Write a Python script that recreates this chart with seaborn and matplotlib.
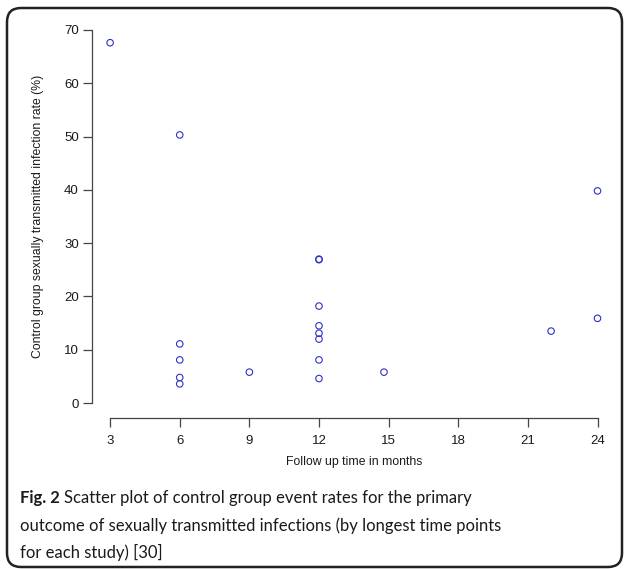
import numpy as np
import pandas as pd
import seaborn as sns
import matplotlib.pyplot as plt
from matplotlib.patches import FancyBboxPatch

# follow-up time (months) and control group STI rate (%)
months = [3, 6, 6, 6, 6, 6, 9, 12, 12, 12, 12, 12, 12, 12, 12, 14.8, 22, 24, 24]
rates = [67.6, 50.3, 11.1, 8.1, 4.8, 3.6, 5.8, 27.0, 26.9, 18.2, 14.5, 13.1, 12.0, 8.1, 4.6, 5.8, 13.5, 39.8, 15.9]
x_ticks = [3, 6, 9, 12, 15, 18, 21, 24]
y_ticks = [0, 10, 20, 30, 40, 50, 60, 70]

df = pd.DataFrame({"months": months, "rate": rates})

sns.set_style("ticks")
plt.rcParams['font.family'] = ['Liberation Sans', 'DejaVu Sans']

W, H = 624, 569
fig = plt.figure(figsize=(W / 100, H / 100), dpi=100)

# axes box in pixels: left 92, right 617, top 15, bottom 418
ax = fig.add_axes([92 / W, (H - 418) / H, (617 - 92) / W, (418 - 15) / H])
sns.scatterplot(data=df, x="months", y="rate", ax=ax, marker="o", s=22,
                facecolors="none", edgecolor="#3030c8", linewidth=0.8, legend=False)

ax.set_xlim(2.22, 24.84)
ax.set_ylim(-2.8, 72.8)
ax.set_xticks(x_ticks)
ax.set_yticks(y_ticks)
ax.set_xticklabels([str(t) for t in x_ticks])
ax.set_yticklabels([str(t) for t in y_ticks])

for s in ["top", "right"]:
    ax.spines[s].set_visible(False)
ax.spines["left"].set_bounds(0, 70)
ax.spines["bottom"].set_bounds(3, 24)
for s in ["left", "bottom"]:
    ax.spines[s].set_color("#444444")
    ax.spines[s].set_linewidth(0.9)

ax.tick_params(axis="both", direction="out", length=6.5, width=0.9, color="#444444",
               labelsize=9.5, labelcolor="#1a1a1a")
ax.tick_params(axis="x", pad=5.5)
ax.tick_params(axis="y", pad=3)

ax.set_xlabel("Follow up time in months", fontsize=8.8, color="#1a1a1a", va="center")
ax.xaxis.set_label_coords(0.5, -0.109)
ax.set_ylabel("Control group sexually transmitted infection rate (%)", fontsize=8.8,
              color="#1a1a1a", va="center")
ax.yaxis.set_label_coords(-0.103, 0.5)

# rounded frame around the figure
frame = FancyBboxPatch((7, H - 567), 615, 559, boxstyle="round,pad=0,rounding_size=14",
                       transform=None, fill=False, edgecolor="#222222", linewidth=1.8)
fig.patches.append(frame)

# caption
cap_font = ['Lato', 'DejaVu Sans']
cap_size = 12
lines = ["Scatter plot of control group event rates for the primary",
         "outcome of sexually transmitted infections (by longest time points",
         "for each study) [30]"]
ys = [498, 526, 552]
bold = fig.text(20 / W, 1 - ys[0] / H, "Fig. 2", fontsize=cap_size, fontweight="bold",
                family=cap_font, va="center", color="#1a1a1a")
fig.canvas.draw()
bb = bold.get_window_extent()
fig.text((bb.x1 + 4) / W, 1 - ys[0] / H, lines[0], fontsize=cap_size, family=cap_font,
         va="center", color="#1a1a1a")
for ln, yy in zip(lines[1:], ys[1:]):
    fig.text(20 / W, 1 - yy / H, ln, fontsize=cap_size, family=cap_font, va="center",
             color="#1a1a1a")

fig.savefig("out.png", dpi=100)
